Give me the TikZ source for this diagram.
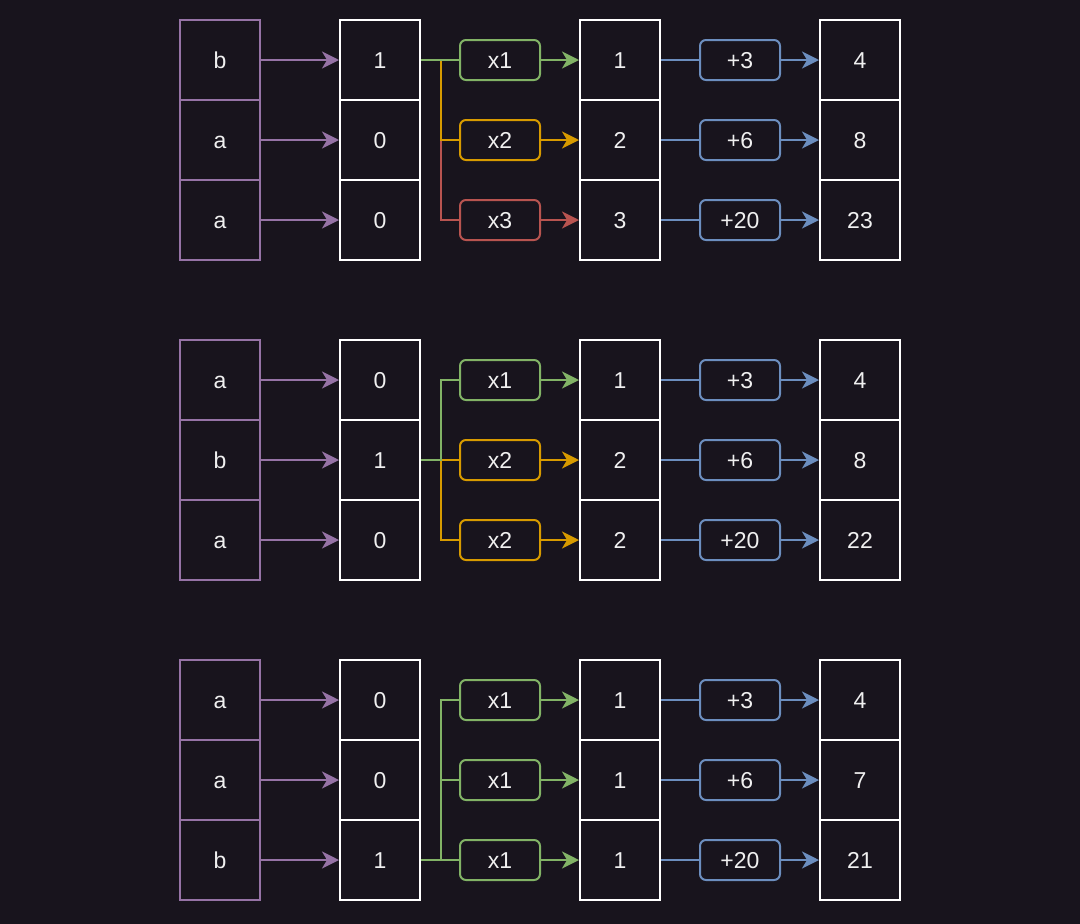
\documentclass[tikz,border=0pt]{standalone}
\usepackage{fontspec}
\setmainfont{Liberation Sans}
\usetikzlibrary{arrows.meta}
\definecolor{bg}{HTML}{18141D}
\definecolor{fg}{HTML}{F0F0F0}
\definecolor{cgreen}{HTML}{82B366}
\definecolor{corange}{HTML}{D79B00}
\definecolor{cred}{HTML}{B85450}
\definecolor{cblue}{HTML}{6C8EBF}
\definecolor{cpurple}{HTML}{9673A6}
\begin{document}
\begin{tikzpicture}[x=1pt,y=-1pt,
  txt/.style={text=fg, font=\fontsize{23}{23}\selectfont, text height=20.7pt, text depth=4.6pt},
  cell/.style={txt, draw=white, line width=2pt, fill=bg, minimum width=80pt, minimum height=80pt, inner sep=0pt},
  lcell/.style={cell, draw=cpurple},
  opbox/.style={txt, draw=#1, line width=2pt, fill=bg, rounded corners=6pt, minimum width=80pt, minimum height=40pt, inner sep=0pt},
  conn/.style={draw=#1, line width=2pt},
  arr/.style={conn=#1, -{Stealth[length=17pt, width=17pt, inset=5pt]}}]
\fill[bg] (0,0) rectangle (1080,924);
\useasboundingbox (0,0) rectangle (1080,924);
\foreach \g/\t/\s/\la/\lb/\lc/\na/\nb/\nc/\ma/\mb/\mc/\ka/\kb/\kc/\ca/\cb/\cc/\ra/\rb/\rc in {
  1/20/1/b/a/a/1/0/0/x1/x2/x3/cgreen/corange/cred/1/2/3/4/8/23,
  2/340/2/a/b/a/0/1/0/x1/x2/x2/cgreen/corange/corange/1/2/2/4/8/22,
  3/660/3/a/a/b/0/0/1/x1/x1/x1/cgreen/cgreen/cgreen/1/1/1/4/7/21}{
  % letters
  \node[lcell] (L\g1) at (220,\t+40) {\la};
  \node[lcell] (L\g2) at (220,\t+120) {\lb};
  \node[lcell] (L\g3) at (220,\t+200) {\lc};
  % counts
  \node[cell] (A\g1) at (380,\t+40) {\na};
  \node[cell] (A\g2) at (380,\t+120) {\nb};
  \node[cell] (A\g3) at (380,\t+200) {\nc};
  % multipliers
  \node[opbox=\ka] (M\g1) at (500,\t+40) {\ma};
  \node[opbox=\kb] (M\g2) at (500,\t+120) {\mb};
  \node[opbox=\kc] (M\g3) at (500,\t+200) {\mc};
  % products
  \node[cell] (B\g1) at (620,\t+40) {\ca};
  \node[cell] (B\g2) at (620,\t+120) {\cb};
  \node[cell] (B\g3) at (620,\t+200) {\cc};
  % additions
  \node[opbox=cblue] (P\g1) at (740,\t+40) {+3};
  \node[opbox=cblue] (P\g2) at (740,\t+120) {+6};
  \node[opbox=cblue] (P\g3) at (740,\t+200) {+20};
  % results
  \node[cell] (C\g1) at (860,\t+40) {\ra};
  \node[cell] (C\g2) at (860,\t+120) {\rb};
  \node[cell] (C\g3) at (860,\t+200) {\rc};
  % connectors
  \coordinate (J\g) at ([xshift=20pt]A\g\s.east);
  \draw[conn=\kc] (A\g\s.east) -- (J\g) |- (M\g3.west);
  \draw[conn=\kb] (A\g\s.east) -- (J\g) |- (M\g2.west);
  \draw[conn=\ka] (A\g\s.east) -- (J\g) |- (M\g1.west);
  \draw[arr=\ka] (M\g1) -- (B\g1);
  \draw[arr=\kb] (M\g2) -- (B\g2);
  \draw[arr=\kc] (M\g3) -- (B\g3);
  \foreach \r in {1,2,3}{
    \draw[arr=cpurple] (L\g\r) -- (A\g\r);
    \draw[conn=cblue] (B\g\r) -- (P\g\r);
    \draw[arr=cblue] (P\g\r) -- (C\g\r);
  }
}
\end{tikzpicture}
\end{document}
